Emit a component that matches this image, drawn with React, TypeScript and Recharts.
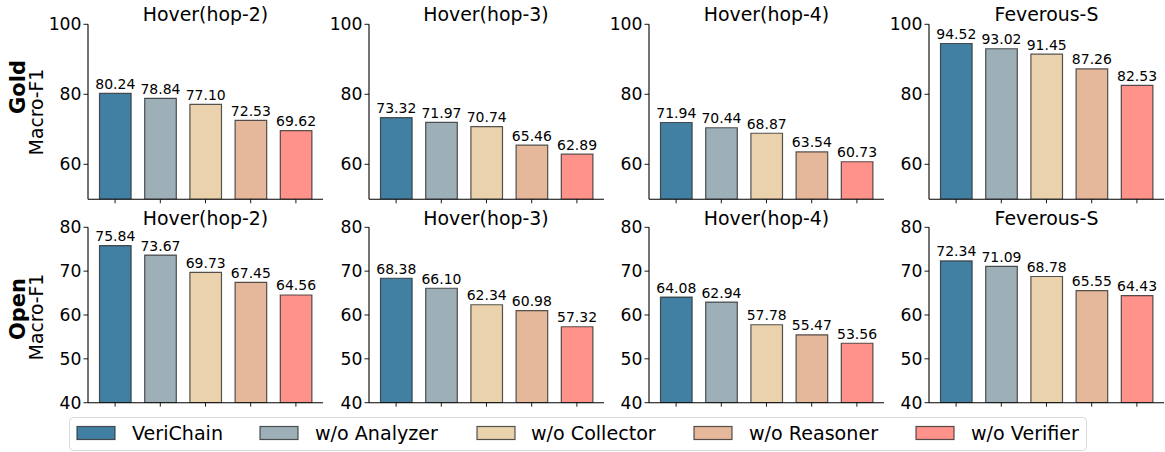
import React from 'react';
import { BarChart, Bar, XAxis, YAxis, Cell, LabelList } from 'recharts';

const FONT = '"DejaVu Sans", sans-serif';

const variants = ['VeriChain', 'w/o Analyzer', 'w/o Collector', 'w/o Reasoner', 'w/o Verifier'];
const colors = ['#4180A3', '#9DAFB7', '#EAD3AC', '#E6B89B', '#FF928A'];
const datasets = ['Hover(hop-2)', 'Hover(hop-3)', 'Hover(hop-4)', 'Feverous-S'];

const goldHop2 = [80.24, 78.84, 77.1, 72.53, 69.62];
const goldHop3 = [73.32, 71.97, 70.74, 65.46, 62.89];
const goldHop4 = [71.94, 70.44, 68.87, 63.54, 60.73];
const goldFeverous = [94.52, 93.02, 91.45, 87.26, 82.53];

const openHop2 = [75.84, 73.67, 69.73, 67.45, 64.56];
const openHop3 = [68.38, 66.1, 62.34, 60.98, 57.32];
const openHop4 = [64.08, 62.94, 57.78, 55.47, 53.56];
const openFeverous = [72.34, 71.09, 68.78, 65.55, 64.43];

const goldTicks = [60, 80, 100];
const openTicks = [40, 50, 60, 70, 80];

const rows = [
  { label: 'Gold', series: [goldHop2, goldHop3, goldHop4, goldFeverous], domain: [50, 100], ticks: goldTicks },
  { label: 'Open', series: [openHop2, openHop3, openHop4, openFeverous], domain: [40, 80], ticks: openTicks },
];

const PANEL_X = [88, 368.5, 649, 929];
const PLOT_W = 235;
const YAXIS_W = 50;

const rowLayout = [
  { top: 0, marginTop: 24.3, plotH: 175, titleBaseline: 20.5, nameY: 87, macroY: 112 },
  { top: 200, marginTop: 27.3, plotH: 175.4, titleBaseline: 225, nameY: 309, macroY: 317 },
];

function Panel({ values, domain, ticks, left, top, marginTop, plotH }) {
  const data = variants.map((v, i) => ({ name: v, value: values[i] }));
  const height = marginTop + plotH + 10;
  return (
    <div style={{ position: 'absolute', left: left - YAXIS_W, top }}>
      <BarChart
        width={YAXIS_W + PLOT_W + 4}
        height={height}
        data={data}
        margin={{ top: marginTop, right: 4, bottom: 0, left: 0 }}
        barCategoryGap={0}
      >
        <XAxis
          dataKey="name"
          type="category"
          height={10}
          padding={{ left: 4.5, right: 4.5 }}
          tickFormatter={() => ''}
          tickSize={4}
          axisLine={{ stroke: '#000', strokeWidth: 1.1 }}
          tickLine={{ stroke: '#000', strokeWidth: 0.9 }}
          interval={0}
        />
        <YAxis
          width={YAXIS_W}
          type="number"
          domain={domain}
          ticks={ticks}
          allowDataOverflow
          tickSize={4.5}
          tickMargin={2}
          axisLine={{ stroke: '#000', strokeWidth: 1.1 }}
          tickLine={{ stroke: '#000', strokeWidth: 0.9 }}
          tick={{ fill: '#000', fontSize: 17.2, fontFamily: FONT }}
          interval={0}
        />
        <Bar dataKey="value" barSize={31.6} isAnimationActive={false} stroke="#2a2a2a" strokeOpacity={0.8} strokeWidth={1.2}>
          {data.map((d, i) => (
            <Cell key={d.name} fill={colors[i]} />
          ))}
          <LabelList
            dataKey="value"
            position="top"
            offset={4.5}
            formatter={(v) => Number(v).toFixed(2)}
            style={{ fill: '#000', fontSize: 14, fontFamily: FONT }}
          />
        </Bar>
      </BarChart>
    </div>
  );
}

const legendPatchX = [77, 260, 477, 694, 916];
const legendTextX = [132, 315, 531, 749, 971];

export default function App() {
  return (
    <div style={{ position: 'absolute', left: 0, top: 0, width: 1165, height: 452, background: '#fff', fontFamily: FONT }}>
      {rows.map((row, r) =>
        row.series.map((vals, c) => (
          <Panel
            key={`${r}-${c}`}
            values={vals}
            domain={row.domain}
            ticks={row.ticks}
            left={PANEL_X[c]}
            top={rowLayout[r].top}
            marginTop={rowLayout[r].marginTop}
            plotH={rowLayout[r].plotH}
          />
        ))
      )}
      <svg width={1165} height={452} style={{ position: 'absolute', left: 0, top: 0, pointerEvents: 'none' }}>
        {rows.map((row, r) =>
          datasets.map((t, c) => (
            <text
              key={`t-${r}-${c}`}
              x={PANEL_X[c] + PLOT_W / 2}
              y={rowLayout[r].titleBaseline}
              textAnchor="middle"
              fontSize={18.9}
              fontFamily={FONT}
              fill="#000"
            >
              {t}
            </text>
          ))
        )}
        {rows.map((row, r) => (
          <g key={`rl-${r}`}>
            <text
              transform={`translate(25, ${rowLayout[r].nameY}) rotate(-90)`}
              textAnchor="middle"
              fontSize={21}
              fontWeight="bold"
              fontFamily={FONT}
              fill="#000"
            >
              {row.label}
            </text>
            <text
              transform={`translate(43, ${rowLayout[r].macroY}) rotate(-90)`}
              textAnchor="middle"
              fontSize={18.7}
              fontFamily={FONT}
              fill="#000"
            >
              Macro-F1
            </text>
          </g>
        ))}
        <rect x={69.5} y={417.5} width={1017} height={33} rx={4} ry={4} fill="#fff" fillOpacity={0.8} stroke="#d9d9d9" strokeWidth={1} />
        {variants.map((v, i) => (
          <g key={`lg-${i}`}>
            <rect x={legendPatchX[i]} y={426.5} width={38} height={13} fill={colors[i]} stroke="#2a2a2a" strokeOpacity={0.8} strokeWidth={1.2} />
            <text x={legendTextX[i]} y={439.8} fontSize={19.1} fontFamily={FONT} fill="#000">
              {v}
            </text>
          </g>
        ))}
      </svg>
    </div>
  );
}
